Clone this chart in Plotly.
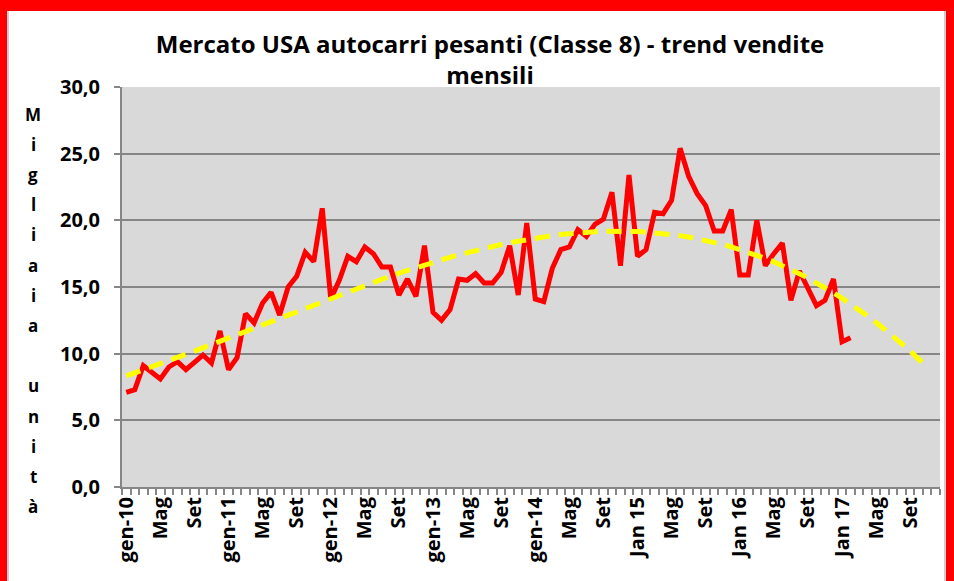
import numpy as np
import plotly.graph_objects as go

# Monthly sales, thousands of units (gen-10 .. feb-17)
sales = [7.1, 7.3, 9.1, 8.6, 8.1, 9.0, 9.4, 8.8, 9.4, 9.9, 9.3, 11.7,
         8.8, 9.7, 13.0, 12.3, 13.8, 14.6, 12.9, 15.0, 15.8, 17.6, 16.9, 20.9,
         14.1, 15.5, 17.3, 16.9, 18.0, 17.5, 16.5, 16.5, 14.4, 15.6, 14.3, 18.1,
         13.1, 12.5, 13.3, 15.6, 15.5, 16.0, 15.3, 15.3, 16.1, 18.1, 14.4, 19.8,
         14.1, 13.9, 16.4, 17.8, 18.0, 19.3, 18.8, 19.7, 20.1, 22.1, 16.6, 23.4,
         17.3, 17.8, 20.6, 20.5, 21.5, 25.4, 23.3, 22.0, 21.1, 19.2, 19.2, 20.8,
         15.9, 15.9, 20.0, 16.6, 17.5, 18.3, 14.0, 16.2, 14.9, 13.6, 14.0, 15.6,
         10.9, 11.2]
n_categories = 96          # gen-10 .. dic-17
forecast_periods = 9       # trendline forward forecast
tick_labels = ["gen-10", "Mag", "Set", "gen-11", "Mag", "Set", "gen-12", "Mag", "Set",
               "gen-13", "Mag", "Set", "gen-14", "Mag", "Set", "Jan 15", "Mag", "Set",
               "Jan 16", "Mag", "Set", "Jan 17", "Mag", "Set"]
title_text = "Mercato USA autocarri pesanti (Classe 8) - trend vendite<br>mensili"
ytitle_letters = ["M", "i", "g", "l", "i", "a", "i", "a", "", "u", "n", "i", "t", "à"]

x_data = np.arange(len(sales))
# polynomial trendline (as the spreadsheet computes it) with forward forecast
coef = np.polyfit(x_data + 1, sales, 3)
x_trend = np.arange(len(sales) + forecast_periods)
y_trend = np.polyval(coef, x_trend + 1)

W, H = 954, 581
L, R, T, B = 122, 14, 87, 94
pw, ph = W - L - R, H - T - B

def px(x):
    return (x - L) / pw

def py(y):
    return (H - B - y) / ph

FONT = "Open Sans"
grey = "#868686"

fig = go.Figure()
fig.add_trace(go.Scatter(x=x_data, y=sales, mode="lines",
                         line=dict(color="#FF0000", width=5), showlegend=False))
fig.add_trace(go.Scatter(x=x_trend, y=y_trend, mode="lines",
                         line=dict(color="#FFFF00", width=5, dash="15px,9px"),
                         showlegend=False))

shapes = [
    # red frame
    dict(type="rect", xref="paper", yref="paper", x0=px(0), x1=px(W), y0=py(0), y1=py(11),
         fillcolor="#FF0000", line_width=0, layer="above"),
    dict(type="rect", xref="paper", yref="paper", x0=px(0), x1=px(7), y0=py(H), y1=py(0),
         fillcolor="#FF0000", line_width=0, layer="above"),
    dict(type="rect", xref="paper", yref="paper", x0=px(946), x1=px(W), y0=py(H), y1=py(0),
         fillcolor="#FF0000", line_width=0, layer="above"),
    dict(type="line", xref="paper", yref="paper", x0=px(8), x1=px(8), y0=py(H), y1=py(11),
         line=dict(color="#BFBFBF", width=1.5), layer="above"),
    dict(type="line", xref="paper", yref="paper", x0=px(945), x1=px(945), y0=py(H), y1=py(11),
         line=dict(color="#BFBFBF", width=1.5), layer="above"),
]

annotations = []
y0 = 114
for k, ch in enumerate(ytitle_letters):
    if not ch:
        continue
    annotations.append(dict(text=ch, xref="paper", yref="paper", x=px(33), y=py(y0 + 30.2 * k),
                            xanchor="center", yanchor="middle", showarrow=False,
                            font=dict(family=FONT, size=17, color="black", weight="bold")))

fig.update_layout(
    width=W, height=H,
    margin=dict(l=L, r=R, t=T, b=B, pad=0),
    paper_bgcolor="white",
    plot_bgcolor="#D9D9D9",
    separators=",.",
    title=dict(text=title_text, x=490 / W, xref="container", xanchor="center",
               y=1 - 53 / H, yref="container", yanchor="top",
               font=dict(family=FONT, size=24, color="black", weight="bold")),
    xaxis=dict(range=[-0.5, n_categories - 0.5],
               tickmode="array", tickvals=list(range(0, n_categories, 4)), ticktext=tick_labels,
               tickangle=-90, ticks="", showgrid=False, zeroline=False,
               showline=True, linecolor=grey, linewidth=2,
               tickfont=dict(family=FONT, size=20, color="black", weight="bold"),
               minor=dict(tickmode="linear", tick0=-0.5, dtick=1, ticks="outside",
                          ticklen=6, tickwidth=1.5, tickcolor=grey, showgrid=False)),
    yaxis=dict(range=[0, 30], dtick=5, tickformat=".1f", showgrid=True, gridcolor=grey,
               gridwidth=2, zeroline=False, showline=True, linecolor=grey, linewidth=2,
               ticks="outside", ticklen=6, tickwidth=1.5, tickcolor=grey,
               ticklabelstandoff=10,
               tickfont=dict(family=FONT, size=20, color="black", weight="bold")),
    shapes=shapes,
    annotations=annotations,
)

fig.write_html("out.html", config={"displayModeBar": False},
               post_script="document.body.style.margin='0';")
